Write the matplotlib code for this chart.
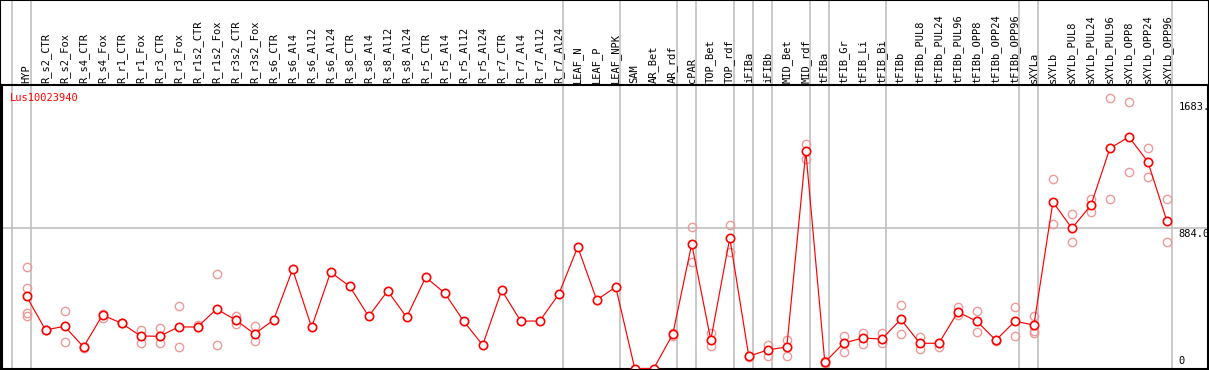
import matplotlib
matplotlib.use("Agg")
import matplotlib.pyplot as plt
import matplotlib.transforms as mtransforms
from matplotlib.patches import Rectangle

GENE_ID = "Lus10023940"

SAMPLES = [
    "HYP", "R_s2_CTR", "R_s2_Fox", "R_s4_CTR", "R_s4_Fox", "R_r1_CTR",
    "R_r1_Fox", "R_r3_CTR", "R_r3_Fox", "R_r1s2_CTR", "R_r1s2_Fox",
    "R_r3s2_CTR", "R_r3s2_Fox", "R_s6_CTR", "R_s6_Al4", "R_s6_Al12",
    "R_s6_Al24", "R_s8_CTR", "R_s8_Al4", "R_s8_Al12", "R_s8_Al24",
    "R_r5_CTR", "R_r5_Al4", "R_r5_Al12", "R_r5_Al24", "R_r7_CTR",
    "R_r7_Al4", "R_r7_Al12", "R_r7_Al24", "LEAF_N", "LEAF_P", "LEAF_NPK",
    "SAM", "AR_Bet", "AR_rdf", "cPAR", "TOP_Bet", "TOP_rdf", "iFIBa",
    "iFIBb", "MID_Bet", "MID_rdf", "tFIBa", "tFIB_Gr", "tFIB_Li", "tFIB_Bi",
    "tFIBb", "tFIBb_PUL8", "tFIBb_PUL24", "tFIBb_PUL96", "tFIBb_OPP8",
    "tFIBb_OPP24", "tFIBb_OPP96", "sXYLa", "sXYLb", "sXYLb_PUL8",
    "sXYLb_PUL24", "sXYLb_PUL96", "sXYLb_OPP8", "sXYLb_OPP24", "sXYLb_OPP96",
]

# mean expression per sample
MEANS = [
    455, 243, 266, 136, 337, 285, 205, 203, 262, 262, 375, 306, 218, 306,
    625, 260, 607, 518, 329, 489, 323, 575, 476, 298, 148, 493, 299, 299,
    468, 766, 432, 514, 0, 0, 216, 785, 180, 823, 77, 117, 136, 1369, 39,
    161, 192, 186, 310, 159, 159, 356, 298, 178, 298, 274, 1050, 884, 1029,
    1388, 1460, 1302, 928,
]

# individual replicates (empty where hidden under the mean)
REPLICATES = [
    [640, 506, 350, 329], [243, 240], [363, 165], [136, 132], [342, 318],
    [285, 285], [243, 159], [255, 159], [392, 136], [274, 262], [594, 146],
    [333, 279], [266, 171], [], [], [], [], [], [], [], [], [], [], [], [],
    [], [], [], [], [], [], [], [], [], [224, 205], [892, 670], [222, 144],
    [903, 735], [73, 80], [148, 79], [180, 81], [1415, 1323], [33, 45],
    [205, 106], [222, 153], [226, 163], [400, 216], [197, 125], [159, 137],
    [386, 337], [361, 230], [178, 175], [388, 203], [331, 236, 222],
    [1193, 909], [974, 796], [1071, 985], [1704, 1067], [1678, 1237],
    [1390, 1207], [1067, 798],
]

# group boundaries (separator drawn just after these sample indices)
GROUP_ENDS = [-1, 0, 28, 31, 34, 35, 37, 38, 39, 41, 42, 45, 52, 53, 60]

Y_TICKS = [0, 884.0, 1683.0]
Y_TICK_LABELS = ["0", "884.0", "1683."]
Y_MAX = 1787

W, H = 1209, 370
MONO = "DejaVu Sans Mono"
GRID = "#c0c0c0"


def main():
    fig = plt.figure(figsize=(W / 100, H / 100), dpi=100)
    ax = fig.add_axes([1.5 / W, 1.5 / H, 1206.5 / W, 283.5 / H])

    x = list(range(len(SAMPLES)))
    ax.set_xlim(-1.316, 62.16)
    ax.set_ylim(0, Y_MAX)

    # replicates
    rx, ry = [], []
    for i, reps in enumerate(REPLICATES):
        rx += [i] * len(reps)
        ry += reps
    ax.plot(rx, ry, "o", ms=6.0, mfc="none", mec="#ee9a9a", mew=1.0, zorder=2)

    # mean line
    ax.plot(x, MEANS, "-", color="#ff0000", lw=0.85, zorder=3)
    ax.plot(x, MEANS, "o", ms=6.0, mfc="white", mec="#ff0000", mew=1.2,
            zorder=4)

    # horizontal reference line at the middle tick
    ax.axhline(Y_TICKS[1], color=GRID, lw=1.2, zorder=1)

    # group separators, running through the label strip as well
    trans = mtransforms.blended_transform_factory(ax.transData, fig.transFigure)
    ax.vlines([g + 0.24 for g in GROUP_ENDS], 0, 1, transform=trans,
              colors=GRID, lw=1.2, clip_on=False, zorder=1)

    # sample names above the plot
    for i, name in enumerate(SAMPLES):
        ax.annotate(name, xy=(i, 1), xycoords=("data", "axes fraction"),
                    xytext=(0, 2), textcoords="offset pixels",
                    rotation=90, ha="center", va="bottom",
                    fontsize=7.5, family=MONO, annotation_clip=False)

    # value labels on the right
    for val, lab in zip(Y_TICKS, Y_TICK_LABELS):
        if val == 0:
            ax.annotate(lab, xy=(60.6, val), xytext=(0, 2),
                        textcoords="offset pixels", ha="left", va="bottom",
                        fontsize=7.5, family=MONO, annotation_clip=False)
        else:
            ax.annotate(lab, xy=(60.6, val), xytext=(0, -1),
                        textcoords="offset pixels", ha="left", va="top",
                        fontsize=7.5, family=MONO, annotation_clip=False)

    ax.annotate(GENE_ID, xy=(0, 1), xycoords="axes fraction",
                xytext=(8.5, -8), textcoords="offset pixels",
                ha="left", va="top", color="#ff0000",
                fontsize=7.5, family=MONO)

    ax.set_xticks([])
    ax.set_yticks([])
    for s in ax.spines.values():
        s.set_linewidth(1.5)
        s.set_color("black")

    fig.patches.append(Rectangle((0, 0), 1, 1, fill=False, ec="black",
                                 lw=1.5, transform=fig.transFigure))

    fig.savefig("out.png", dpi=100)
    plt.close(fig)


if __name__ == "__main__":
    main()
